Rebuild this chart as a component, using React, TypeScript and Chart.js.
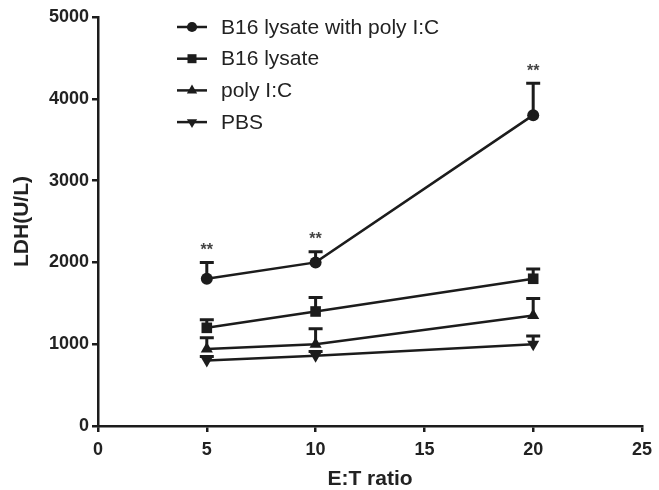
import React, { useEffect, useRef } from "react";
import { Chart, registerables } from "chart.js";

Chart.register(...registerables);

const X_VALUES = [5, 10, 20];
const SERIES_LABELS = ["B16 lysate with poly I:C", "B16 lysate", "poly I:C", "PBS"];
const LYSATE_POLY = [1800, 2000, 3800];
const LYSATE_POLY_ERR = [200, 130, 390];
const LYSATE = [1200, 1400, 1800];
const LYSATE_ERR = [100, 170, 120];
const POLY = [940, 1000, 1350];
const POLY_ERR = [140, 190, 210];
const PBS = [800, 860, 1000];
const PBS_ERR = [50, 50, 100];
const SIGNIFICANCE = ["**", "**", "**"];
const X_TICKS = [0, 5, 10, 15, 20, 25];
const Y_TICKS = [0, 1000, 2000, 3000, 4000, 5000];

const VALUES = [LYSATE_POLY, LYSATE, POLY, PBS];
const ERRORS = [LYSATE_POLY_ERR, LYSATE_ERR, POLY_ERR, PBS_ERR];
const POINT_STYLES = ["circle", "rect", "triangle", "triangle"];
const POINT_RADII = [6, 7.5, 7, 7];
const POINT_ROTATIONS = [0, 0, 0, 180];

const INK = "#1c1c1c";
const FONT = "'Liberation Sans', Arial, sans-serif";

function drawMarker(ctx: CanvasRenderingContext2D, style: string, x: number, y: number, r: number, rot: number) {
  ctx.beginPath();
  if (style === "circle") {
    ctx.arc(x, y, r, 0, Math.PI * 2);
  } else if (style === "rect") {
    const s = Math.SQRT1_2 * r;
    ctx.rect(x - s, y - s, 2 * s, 2 * s);
  } else {
    let rad = (rot * Math.PI) / 180;
    for (let k = 0; k < 3; k++) {
      const px = x + Math.sin(rad) * r;
      const py = y - Math.cos(rad) * r;
      if (k === 0) ctx.moveTo(px, py);
      else ctx.lineTo(px, py);
      rad += (2 * Math.PI) / 3;
    }
    ctx.closePath();
  }
  ctx.fill();
}

const errorBarPlugin = {
  id: "errorBarsAndNotes",
  afterDatasetsDraw(chart: any) {
    const { ctx, scales } = chart;
    const xs = scales.x;
    const ys = scales.y;
    ctx.save();
    ctx.strokeStyle = INK;
    ctx.fillStyle = INK;
    ctx.lineWidth = 3;
    chart.data.datasets.forEach((ds: any, i: number) => {
      const errs = ERRORS[i];
      ds.data.forEach((pt: any, j: number) => {
        const px = xs.getPixelForValue(pt.x);
        const py = ys.getPixelForValue(pt.y);
        const top = ys.getPixelForValue(pt.y + errs[j]);
        ctx.beginPath();
        ctx.moveTo(px, py);
        ctx.lineTo(px, top);
        ctx.moveTo(px - 7, top);
        ctx.lineTo(px + 7, top);
        ctx.stroke();
        if (i === 0 && SIGNIFICANCE[j]) {
          ctx.save();
          ctx.fillStyle = "#444";
          ctx.font = `bold 16px ${FONT}`;
          ctx.textAlign = "center";
          ctx.textBaseline = "middle";
          ctx.fillText(SIGNIFICANCE[j], px, top - 12);
          ctx.restore();
        }
      });
    });
    ctx.restore();
  },
  afterDraw(chart: any) {
    const { ctx, chartArea } = chart;
    ctx.save();
    const x0 = chartArea.left + 79;
    const y0 = chartArea.top + 10;
    chart.data.datasets.forEach((ds: any, i: number) => {
      const y = y0 + i * 31.7;
      ctx.strokeStyle = INK;
      ctx.fillStyle = INK;
      ctx.lineWidth = 2.5;
      ctx.beginPath();
      ctx.moveTo(x0, y);
      ctx.lineTo(x0 + 30, y);
      ctx.stroke();
      drawMarker(ctx, POINT_STYLES[i], x0 + 15, y, POINT_RADII[i] * 0.85, POINT_ROTATIONS[i]);
      ctx.fillStyle = "#222";
      ctx.font = `21px ${FONT}`;
      ctx.textAlign = "left";
      ctx.textBaseline = "middle";
      ctx.fillText(ds.label, x0 + 44, y + 1);
    });
    ctx.restore();
  },
};

export default function App() {
  const canvasRef = useRef<HTMLCanvasElement | null>(null);

  useEffect(() => {
    document.body.style.margin = "0";
    const canvas = canvasRef.current;
    if (!canvas) return;
    const datasets = VALUES.map((vals, i) => ({
      label: SERIES_LABELS[i],
      data: vals.map((v, j) => ({ x: X_VALUES[j], y: v })),
      borderColor: INK,
      backgroundColor: INK,
      borderWidth: 2.5,
      pointStyle: POINT_STYLES[i],
      pointRadius: POINT_RADII[i],
      pointRotation: POINT_ROTATIONS[i],
      pointBorderWidth: 0,
      pointBackgroundColor: INK,
      tension: 0,
    }));
    const tickFont = { family: FONT, size: 18, weight: "bold" as const };
    const chart = new Chart(canvas, {
      type: "line",
      data: { datasets },
      plugins: [errorBarPlugin],
      options: {
        animation: false,
        responsive: false,
        maintainAspectRatio: false,
        layout: { padding: { top: 17, right: 14, left: 0, bottom: 0 } },
        plugins: { legend: { display: false }, tooltip: { enabled: false } },
        scales: {
          x: {
            type: "linear",
            min: 0,
            max: 25,
            afterBuildTicks: (s: any) => {
              s.ticks = X_TICKS.map((v) => ({ value: v }));
            },
            afterFit: (s: any) => {
              s.height = 64;
            },
            ticks: { font: tickFont, color: "#222", padding: 7, maxRotation: 0, callback: (v: any) => String(v) },
            grid: { drawOnChartArea: false, drawTicks: true, tickLength: 6, color: INK, lineWidth: 2.5 },
            border: { display: true, color: INK, width: 2.5 },
            title: {
              display: true,
              text: "E:T ratio",
              color: "#222",
              font: { family: FONT, size: 21, weight: "bold", lineHeight: 1 },
              padding: { top: 0, bottom: 0 },
            },
          },
          y: {
            type: "linear",
            min: 0,
            max: 5000,
            afterBuildTicks: (s: any) => {
              s.ticks = Y_TICKS.map((v) => ({ value: v }));
            },
            afterFit: (s: any) => {
              s.width = 98;
            },
            ticks: { font: tickFont, color: "#222", padding: 3, callback: (v: any) => String(v) },
            grid: { drawOnChartArea: false, drawTicks: true, tickLength: 6, color: INK, lineWidth: 2.5 },
            border: { display: true, color: INK, width: 2.5 },
            title: {
              display: true,
              text: "LDH(U/L)",
              color: "#222",
              font: { family: FONT, size: 21, weight: "bold", lineHeight: 1 },
              padding: { top: 12, bottom: 0 },
            },
          },
        },
      },
    });
    return () => chart.destroy();
  }, []);

  return (
    <div style={{ width: 659, height: 490, background: "#fff" }}>
      <canvas ref={canvasRef} width={659} height={490} style={{ width: 659, height: 490, display: "block" }} />
    </div>
  );
}
